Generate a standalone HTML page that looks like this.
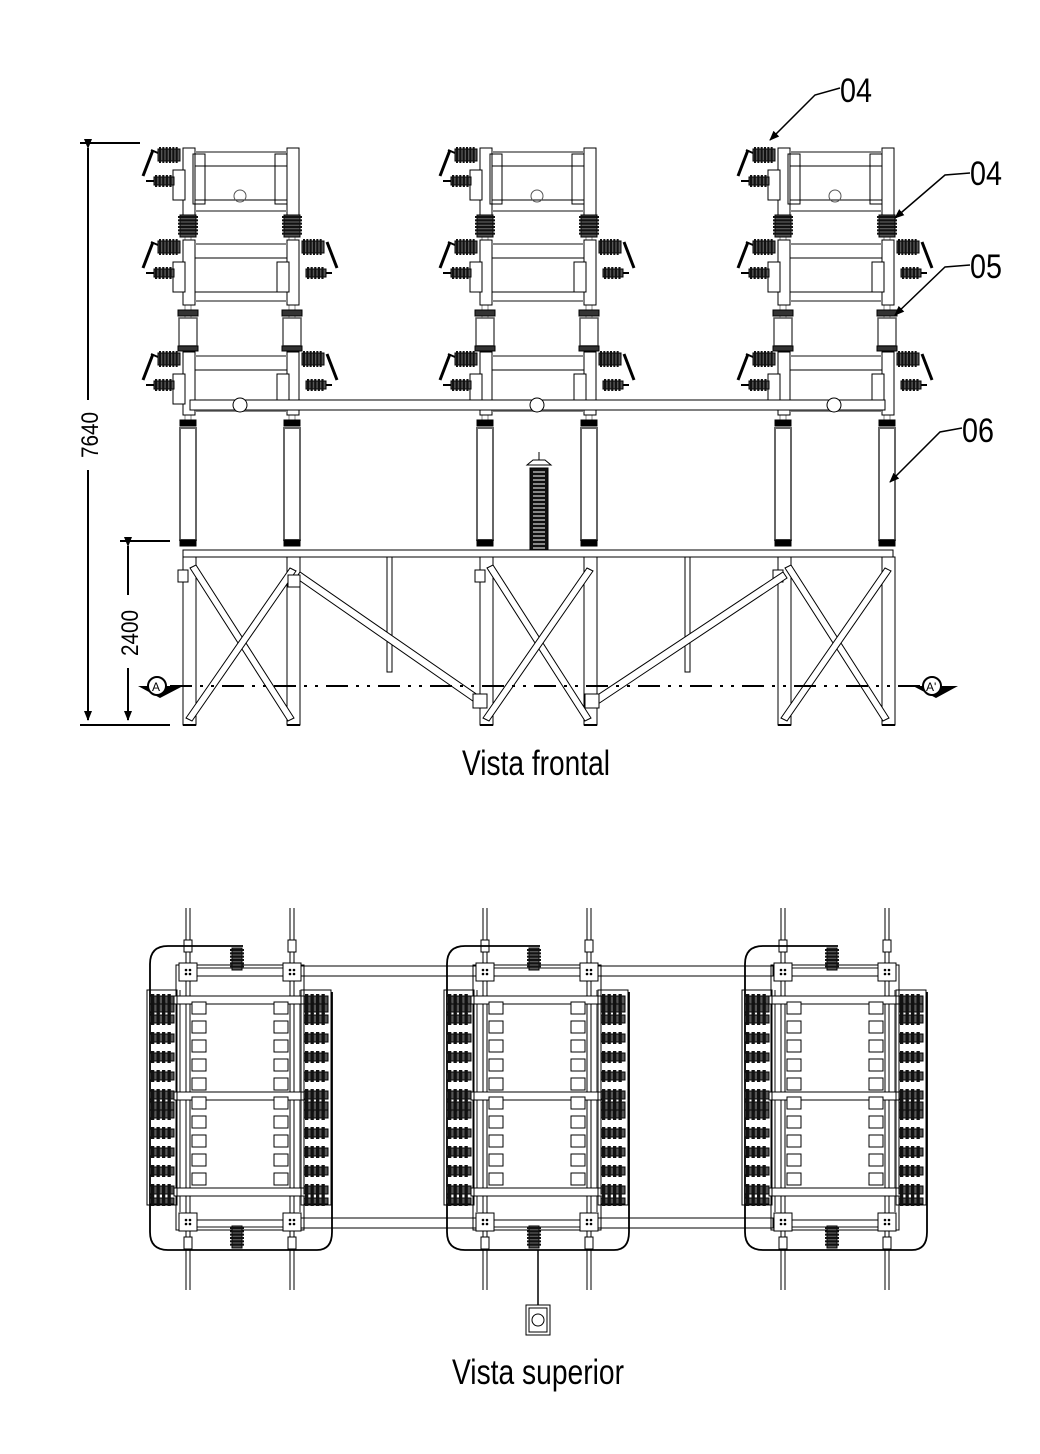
<!DOCTYPE html>
<html><head><meta charset="utf-8"><style>
html,body{margin:0;padding:0;background:#fff;width:1040px;height:1454px;overflow:hidden}
svg{display:block}
text{font-family:"Liberation Sans",sans-serif}
</style></head><body>
<svg id="s" width="1040" height="1454" viewBox="0 0 1040 1454" xmlns="http://www.w3.org/2000/svg">
<defs>
<marker id="ar" markerWidth="10" markerHeight="10" refX="9" refY="5" orient="auto" markerUnits="userSpaceOnUse"><path d="M0,1 L10,5 L0,9 Z" fill="#000"/></marker>
</defs>
<g id="g" fill="none" stroke="#000" stroke-width="1"></g>
<g stroke="#000" stroke-width="2" fill="none">
<line x1="80" y1="143" x2="140" y2="143"/>
<line x1="80" y1="725" x2="170" y2="725"/>
<line x1="88" y1="148" x2="88" y2="400" marker-start="url(#ar)"/>
<line x1="88" y1="470" x2="88" y2="720" marker-end="url(#ar)"/>
<line x1="120" y1="541" x2="170" y2="541"/>
<line x1="128" y1="546" x2="128" y2="595" marker-start="url(#ar)"/>
<line x1="128" y1="668" x2="128" y2="720" marker-end="url(#ar)"/>
</g>
<text x="0" y="0" font-size="24" textLength="46" lengthAdjust="spacingAndGlyphs" transform="translate(98,458) rotate(-90)">7640</text>
<text x="0" y="0" font-size="24" textLength="46" lengthAdjust="spacingAndGlyphs" transform="translate(138,656) rotate(-90)">2400</text>
<line x1="170" y1="686" x2="925" y2="686" stroke="#000" stroke-width="2" stroke-dasharray="22,8,3,8,3,8"/>
<path d="M138,686 L183,686 L160,698 Z" fill="#000"/>
<circle cx="157" cy="686" r="9" fill="#fff" stroke="#000" stroke-width="2"/>
<text x="152" y="691" font-size="12">A</text>
<path d="M913,686 L958,686 L936,698 Z" fill="#000"/>
<circle cx="932" cy="686" r="9" fill="#fff" stroke="#000" stroke-width="2"/>
<text x="926" y="691" font-size="12">A'</text>
<g stroke="#000" stroke-width="1.5" fill="none">
<polyline points="840,88 815,95 770,140" marker-end="url(#ar)"/>
<polyline points="970,173 945,175 895,218" marker-end="url(#ar)"/>
<polyline points="970,265 945,267 895,315" marker-end="url(#ar)"/>
<polyline points="962,428 940,432 890,482" marker-end="url(#ar)"/>
</g>
<text x="840" y="102" font-size="34" textLength="32" lengthAdjust="spacingAndGlyphs">04</text>
<text x="970" y="185" font-size="34" textLength="32" lengthAdjust="spacingAndGlyphs">04</text>
<text x="970" y="278" font-size="34" textLength="32" lengthAdjust="spacingAndGlyphs">05</text>
<text x="962" y="442" font-size="34" textLength="32" lengthAdjust="spacingAndGlyphs">06</text>
<text x="462" y="775" font-size="35" textLength="148" lengthAdjust="spacingAndGlyphs">Vista frontal</text>
<text x="452" y="1384" font-size="35" textLength="172" lengthAdjust="spacingAndGlyphs">Vista superior</text>
</svg>
<script>
var g=document.getElementById('g');var NS='http://www.w3.org/2000/svg';
function el(t,a){var e=document.createElementNS(NS,t);for(var k in a)e.setAttribute(k,a[k]);g.appendChild(e);return e;}
function R(x,y,w,h,o){o=o||{};o.x=x;o.y=y;o.width=w;o.height=h;return el('rect',o);}
function L(x1,y1,x2,y2,o){o=o||{};o.x1=x1;o.y1=y1;o.x2=x2;o.y2=y2;return el('line',o);}
var GR='#888';
function ins(x,y,w,h,n,vert){
  R(x,y,w,h,{fill:'#555'});
  for(var i=0;i<n;i++){ if(vert){var yy=y+1+i*(h-2)/n;R(x-2,yy,w+4,(h-2)/n*0.6,{fill:'#111',stroke:'none'});}
  else{var xx=x+1+i*(w-2)/n;R(xx,y-2,(w-2)/n*0.6,h+4,{fill:'#111',stroke:'none'});}}
}
var offs=[0,297,595];
offs.forEach(function(o,mi){
  var a=188+o,b=292+o;
  // continuous columns
  R(a-3,148,6,272,{fill:'#fff',stroke:GR});R(b-3,148,6,272,{fill:'#fff',stroke:GR});
  [[148,215],[240,305],[352,415]].forEach(function(lv,li){
    var t=lv[0],bt=lv[1];
    R(a-5,t,12,bt-t,{fill:'#fff'});R(b-5,t,12,bt-t,{fill:'#fff'});
    L(a+7,t+4,b-5,t+4,{stroke:GR,'stroke-width':2});
    L(a+7,t+18,b-5,t+18,{});
    L(a+7,t+52,b-5,t+52,{});
    L(a+7,bt-4,b-5,bt-4,{stroke:GR,'stroke-width':2});
    R(a-15,t+22,12,30,{fill:'#fff'});
    L(a-45,t+28,a-35,t+2,{'stroke-width':3});L(a-37,t+2,a-30,t+5,{'stroke-width':2});
    ins(a-30,t+1,22,12,6,false);
    ins(a-34,t+29,20,8,5,false);L(a-42,t+33,a-34,t+33,{'stroke-width':2});
    if(li>0){
      L(b+45,t+28,b+35,t+2,{'stroke-width':3});
      ins(b+10,t+1,22,12,6,false);
      ins(b+14,t+29,20,8,5,false);L(b+34,t+33,b+40,t+33,{'stroke-width':2});
      R(b-15,t+22,12,30,{fill:'#fff'});
    }
    if(li==0){R(a+5,t+6,12,50,{});R(b-17,t+6,12,50,{});}
  });
  ins(a-8,215,16,22,6,true);ins(b-8,215,16,22,6,true);
  R(a-9,318,18,28,{fill:'#fff',stroke:'#555','stroke-width':1.5});R(b-9,318,18,28,{fill:'#fff',stroke:'#555','stroke-width':1.5});
  R(a-10,310,20,6,{fill:'#333'});R(b-10,310,20,6,{fill:'#333'});R(a-10,346,20,5,{fill:'#333'});R(b-10,346,20,5,{fill:'#333'});
  [a,b].forEach(function(x){
    R(x-8,420,16,6,{fill:'#000'});
    R(x-8,428,16,112,{fill:'#fff',stroke:'#666','stroke-width':2});
    R(x-8,540,16,6,{fill:'#000'});
    R(x-5,557,13,168,{fill:'#fff'});
    L(x-5,725,x+8,725,{'stroke-width':2});
  });
  el('circle',{cx:240+o,cy:196,r:6,stroke:'#555'});
  el('polygon',{points:(a+2)+',568 '+(a+8)+',565 '+(b+2)+',718 '+(b-4)+',721',fill:'#fff'});
  el('polygon',{points:(b-2)+',568 '+(b+4)+',571 '+(a+4)+',721 '+(a-2)+',718',fill:'#fff'});
  R(a-10,570,10,12,{fill:'#fff'});
});
R(190,400,695,10,{fill:'#fff'});
el('circle',{cx:240,cy:405,r:7,fill:'#fff'});el('circle',{cx:537,cy:405,r:7,fill:'#fff'});el('circle',{cx:834,cy:405,r:7,fill:'#fff'});
R(183,550,710,7,{fill:'#fff'});
R(387,557,5,115,{fill:'#fff'});R(685,557,5,115,{fill:'#fff'});
el('polygon',{points:'296,578 300,572 485,700 480,706',fill:'#fff'});
el('polygon',{points:'783,572 787,578 595,706 590,700',fill:'#fff'});
R(473,694,14,14,{fill:'#fff'});R(585,694,14,14,{fill:'#fff'});R(288,575,12,12,{fill:'#fff'});
R(530,468,18,82,{fill:'#111'});
for(var i=0;i<20;i++)L(533,472+i*4,545,472+i*4,{stroke:'#fff','stroke-width':1});
el('polygon',{points:'527,465 551,465 545,460 533,460',fill:'#fff'});L(539,452,539,460);
// top view
offs.forEach(function(o){
  var a=188+o,b=292+o;
  [a,b].forEach(function(x){
    L(x-2,908,x-2,1290,{});L(x+2,908,x+2,1290,{});
    R(x-4,940,8,12,{fill:'#fff'});R(x-4,1237,8,12,{fill:'#fff'});
  });
  el('path',{d:'M'+(a+55)+',946 L'+(a-20)+',946 Q'+(a-38)+',946 '+(a-38)+',964 L'+(a-38)+',1232 Q'+(a-38)+',1250 '+(a-20)+',1250 L'+(b+25)+',1250 Q'+(b+40)+',1250 '+(b+40)+',1232 L'+(b+40)+',992','stroke-width':1.8});
  R(a-12,965,b-a+24,265,{});
  L(a-8,990,a-8,1212,{stroke:GR,'stroke-width':2});L(b+8,990,b+8,1212,{stroke:GR,'stroke-width':2});
  [1000,1096,1192].forEach(function(y){R(a-14,y-4,b-a+28,8,{fill:'#fff'});});
  L(a+8,968,b-8,968,{stroke:GR,'stroke-width':2});L(a+8,976,b-8,976,{});
  L(a+8,1220,b-8,1220,{});L(a+8,1227,b-8,1227,{stroke:GR,'stroke-width':2});
  for(var y=1002;y<1180;y+=19){R(a+4,y,14,12,{fill:'#fff'});R(b-18,y,14,12,{fill:'#fff'});}
  [[a-38,a-14],[b+12,b+36]].forEach(function(p){
    R(p[0]-3,990,p[1]-p[0]+6,215,{});
    for(var y=996;y<1200;y+=19){ins(p[0],y,p[1]-p[0],8,4,false);}
    ins(p[0],1004,p[1]-p[0],8,4,false);ins(p[0],1102,p[1]-p[0],8,4,false);ins(p[0],1198,p[1]-p[0],6,4,false);
  });
  [[a,972],[b,972],[a,1222],[b,1222]].forEach(function(q){R(q[0]-9,q[1]-9,18,18,{fill:'#fff'});
    el('circle',{cx:q[0]-2,cy:q[1]-2,r:0.8,fill:'#000'});el('circle',{cx:q[0]+2,cy:q[1]-2,r:0.8,fill:'#000'});el('circle',{cx:q[0]-2,cy:q[1]+2,r:0.8,fill:'#000'});el('circle',{cx:q[0]+2,cy:q[1]+2,r:0.8,fill:'#000'});});
  ins(a+44,948,10,22,6,true);ins(a+44,1226,10,22,6,true);
});
[[301,476],[598,773]].forEach(function(p){R(p[0],966,p[1]-p[0],10,{});R(p[0],1218,p[1]-p[0],10,{});});
L(538,1250,538,1305,{'stroke-width':1.5});
R(526,1305,24,30,{});R(529,1308,18,24,{});el('circle',{cx:538,cy:1320,r:6});
</script>
</body></html>
